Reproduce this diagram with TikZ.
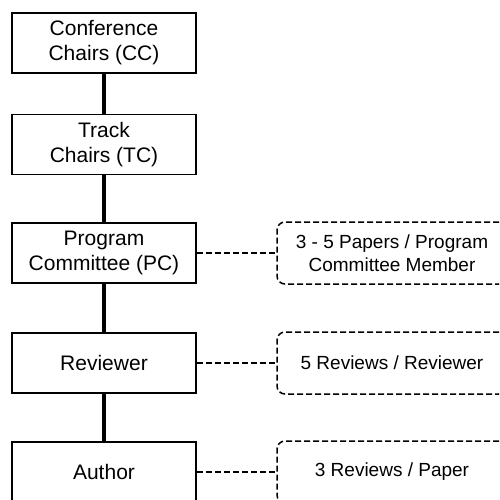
\documentclass[tikz,border=0pt]{standalone}
\usepackage{fontspec}
\setmainfont{Liberation Sans}
\usepackage{tikz}
\usetikzlibrary{positioning}
\tikzstyle{role} = [rectangle, minimum width=184pt, minimum height=60pt, text centered, align=center, draw=black, fill=white, line width=1.8pt, font=\fontsize{21}{25}\selectfont]
\tikzstyle{note} = [rectangle, rounded corners=8pt, minimum width=230pt, minimum height=62pt, text centered, align=center, draw=black, dash pattern=on 6pt off 3pt, line width=1.5pt, font=\fontsize{19}{22.5}\selectfont]
\tikzstyle{link} = [line width=3.4pt, color=black]
\tikzstyle{assign} = [line width=1.5pt, dash pattern=on 6pt off 3pt, color=black]

\begin{document}
\begin{tikzpicture}[x=1pt, y=1pt, node distance=109pt]
\useasboundingbox (0,0) rectangle (499,-500);
\clip (0,0) rectangle (499,-500);
% Hierarchy nodes
\node (cc) [role] at (104,-43) {Conference\\Chairs (CC)};
\node (tc) [role, below of=cc, yshift=7.5pt] {Track\\Chairs (TC)};
\node (pc) [role, below of=tc, yshift=0.5pt] {Program\\Committee (PC)};
\node (reviewer) [role, below of=pc, yshift=-1pt] {Reviewer};
\node (author) [role, below of=reviewer] {Author};

% Workload notes
\node (pcnote) [note, right of=pc, xshift=179pt] {3 - 5 Papers / Program\\Committee Member};
\node (revnote) [note, right of=reviewer, xshift=179pt] {5 Reviews / Reviewer};
\node (authnote) [note, right of=author, xshift=179pt] {3 Reviews / Paper};

% Solid links
\draw[link] (cc) -- (tc);
\draw[link] (tc) -- (pc);
\draw[link] (pc) -- (reviewer);
\draw[link] (reviewer) -- (author);

% Dashed links
\draw[assign] (pc) -- (pcnote);
\draw[assign] (reviewer) -- (revnote);
\draw[assign] (author) -- (authnote);
\end{tikzpicture}
\end{document}
